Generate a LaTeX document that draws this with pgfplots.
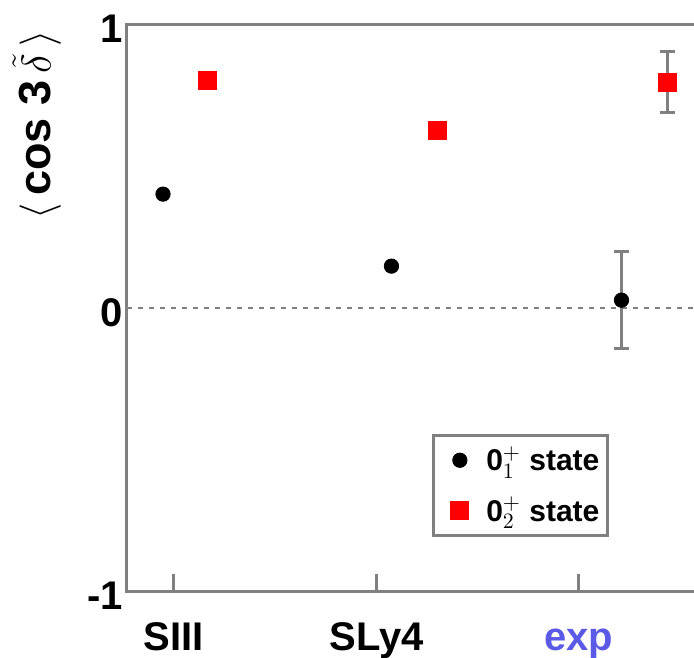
\documentclass[border=0pt]{standalone}
\usepackage{pgfplots}
\pgfplotsset{compat=1.18}
\usepackage{fontspec}
\setmainfont{Liberation Sans}
\definecolor{expblue}{HTML}{5A5AE6}
\definecolor{axgray}{HTML}{808080}
\begin{document}
\begin{tikzpicture}
\begin{axis}[
  x=101.25pt, y=141.75pt,
  xmin=0.768, xmax=4.0, ymin=-1, ymax=1,
  axis line style={axgray, line width=1.5pt},
  xtick={1,2,3}, xticklabels={SIII,SLy4,\textcolor{expblue}{exp}},
  ytick={-1,0,1}, yticklabels={-1,0,1},
  tick align=inside, xtick pos=bottom, ytick pos=left,
  major tick length=8.5pt,
  x tick style={axgray, line width=1.5pt},
  y tick style={draw=none},
  tick label style={font=\fontsize{20}{24}\selectfont\bfseries, inner sep=1pt},
  xticklabel style={text height=14.5pt, text depth=4pt, yshift=-14pt},
  yticklabel style={xshift=-1pt, yshift=-2.5pt},
  ylabel={\bfseries$\langle$\,cos 3\,$\tilde{\delta}$\,$\rangle$},
  ylabel style={at={(rel axis cs:-0.138,0.822)}, anchor=center, inner sep=0pt, font=\fontsize{22.5}{26}\selectfont},
  legend style={at={(0.466,0.277)}, anchor=north west, draw=axgray, line width=1.5pt,
    font=\fontsize{15}{17}\selectfont\bfseries, row sep=7.5pt, inner xsep=2pt, inner ysep=3.5pt},
  legend cell align=left,
  legend image post style={line width=0.4pt},
  legend image code/.code={\path (0pt,0pt) (22pt,0pt); \draw[mark repeat=2,mark phase=2,#1] plot coordinates {(0pt,0pt) (11pt,0pt) (22pt,0pt)};},
]
\addplot[forget plot, axgray, line width=1pt, dash pattern=on 2.5pt off 3pt] coordinates {(0.768,0) (4,0)};
\addplot[forget plot, draw=none, mark=none, error bars/.cd, y dir=both, y explicit,
  error bar style={axgray, line width=1.5pt},
  error mark options={rotate=90, axgray, mark size=3.75pt, line width=1.5pt}]
  coordinates {(3.21,0.026) +- (0,0.17) (3.435,0.795) +- (0,0.107)};
\addplot[only marks, mark=*, black, mark size=3.6pt]
  coordinates {(0.946,0.40) (2.074,0.146) (3.21,0.026)};
\addlegendentry{\textbf{0}$^{+}_{1}$ state}
\addplot[only marks, mark=square*, red, mark options={fill=red, draw=red}, mark size=4.5pt]
  coordinates {(1.163,0.80) (2.30,0.623) (3.435,0.795)};
\addlegendentry{\textbf{0}$^{+}_{2}$ state}
\coordinate (bbsw) at (axis cs:0.141,-1.236);
\coordinate (bbne) at (axis cs:3.568,1.0847);
\end{axis}
\pgfresetboundingbox
\path[use as bounding box] (bbsw) rectangle (bbne);
\end{tikzpicture}
\end{document}
